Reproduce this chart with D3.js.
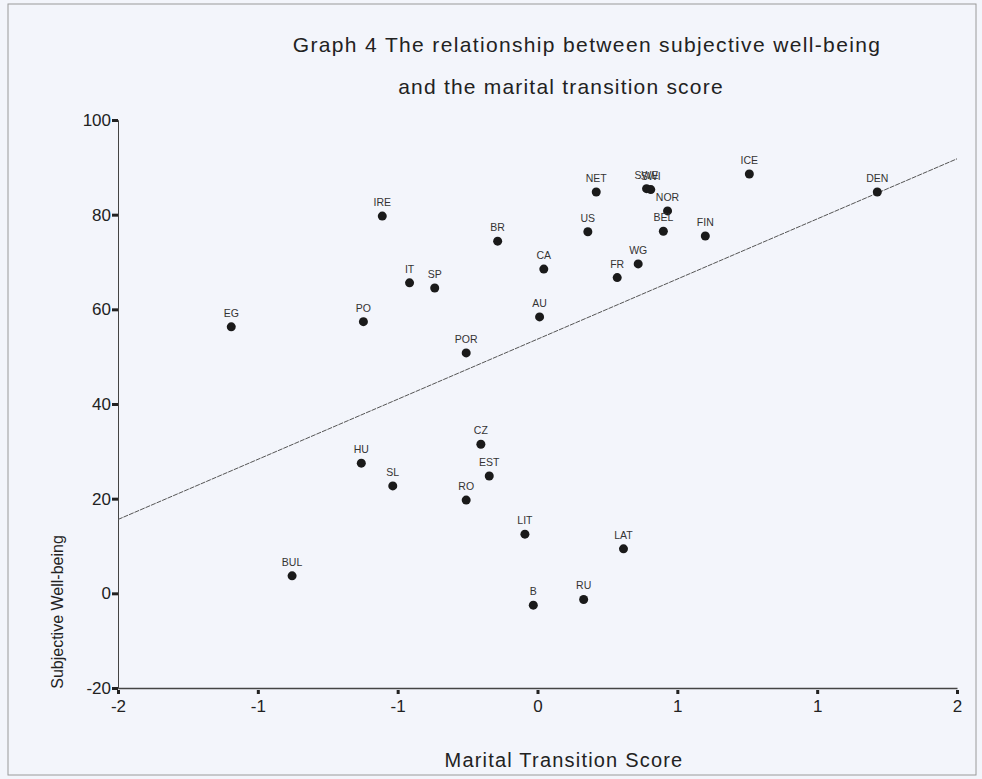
<!DOCTYPE html>
<html>
<head>
<meta charset="utf-8">
<script src="https://cdn.jsdelivr.net/npm/d3@7"></script>
<style>
  body { margin: 0; background: #fff; }
  svg { display: block; font-family: "Liberation Sans", Arial, sans-serif; }
</style>
</head>
<body>
<svg id="chart" width="982" height="779"></svg>
<script>
// country codes, marital transition score, subjective well-being
var countries = ["EG","PO","IRE","IT","SP","BR","POR","CA","AU","US","NET","SWE","SWI","NOR","BEL","WG","FR","FIN","ICE","DEN","HU","SL","CZ","EST","RO","LIT","LAT","BUL","B","RU"];
var transition = [-1.46,-0.83,-0.74,-0.61,-0.49,-0.19,-0.34,0.03,0.01,0.24,0.28,0.52,0.54,0.62,0.60,0.48,0.38,0.80,1.01,1.62,-0.84,-0.69,-0.27,-0.23,-0.34,-0.06,0.41,-1.17,-0.02,0.22];
var wellbeing = [56.3,57.4,79.7,65.6,64.5,74.4,50.8,68.5,58.4,76.4,84.8,85.5,85.3,80.8,76.5,69.6,66.7,75.5,88.6,84.8,27.5,22.7,31.5,24.8,19.7,12.5,9.4,3.7,-2.5,-1.3];

var xTicks = [-2,-4/3,-2/3,0,2/3,4/3,2];
var yTicks = [-20,0,20,40,60,80,100];

// fitted line (intercept, slope)
var fit = [53.7, 19.05];

var svg = d3.select("#chart");
var narrow = "Liberation Sans Narrow, Arial Narrow, sans-serif";

var x = d3.scaleLinear().domain([-2,2]).range([118,957]);
var y = d3.scaleLinear().domain([-20,100]).range([688,120]);

svg.append("rect")
  .attr("width",982).attr("height",779)
  .attr("fill","#f3f5fb");

svg.append("rect")
  .attr("x",8).attr("y",4).attr("width",968).attr("height",771)
  .attr("fill","none").attr("stroke","#9a9a9a").attr("stroke-width",1);

// title
svg.append("text")
  .attr("x",587).attr("y",52)
  .attr("text-anchor","middle")
  .attr("font-size",21).attr("letter-spacing",1.35).attr("fill","#222")
  .text("Graph 4 The relationship between subjective well-being");
svg.append("text")
  .attr("x",561).attr("y",94)
  .attr("text-anchor","middle")
  .attr("font-size",21).attr("letter-spacing",1.2).attr("fill","#222")
  .text("and the marital transition score");

// axes
var xAxis = svg.append("g")
  .attr("transform","translate(0," + y(-20) + ")")
  .call(d3.axisBottom(x).tickValues(xTicks).tickSize(0).tickPadding(12)
        .tickFormat(function(d){ var s = String(Math.round(d)); return s == "-0" ? "0" : s; }));
xAxis.select(".domain").attr("stroke","#444").attr("stroke-width",1.5);
xAxis.selectAll("text").attr("font-size",17).attr("fill","#222").attr("font-family",narrow);

xAxis.selectAll(".tick").append("rect")
  .attr("x",-1.5).attr("y",2).attr("width",3).attr("height",4)
  .attr("fill","#222");

var yAxis = svg.append("g")
  .attr("transform","translate(" + x(-2) + ",0)")
  .call(d3.axisLeft(y).tickValues(yTicks).tickSize(6).tickPadding(1)
        .tickFormat(function(d){ return String(d); }));
yAxis.select(".domain").attr("stroke","#444").attr("stroke-width",1);
yAxis.selectAll(".tick line").attr("stroke","#222").attr("stroke-width",3);
yAxis.selectAll("text").attr("font-size",17).attr("fill","#222").attr("font-family",narrow);

// axis titles
svg.append("text")
  .attr("x",564).attr("y",767)
  .attr("text-anchor","middle")
  .attr("font-size",20).attr("letter-spacing",1.2).attr("fill","#222")
  .text("Marital Transition Score");
svg.append("text")
  .attr("transform","translate(63,612) rotate(-90)")
  .attr("text-anchor","middle")
  .attr("font-size",16).attr("fill","#222")
  .attr("font-family",narrow)
  .text("Subjective Well-being");

// regression line
svg.append("line")
  .attr("x1",x(-2)).attr("y1",y(fit[0] + fit[1]*-2))
  .attr("x2",x(2)).attr("y2",y(fit[0] + fit[1]*2))
  .attr("stroke","#555").attr("stroke-width",1)
  .attr("stroke-dasharray","5,1");

// points
var pts = countries.map(function(c,i){ return {name:c, tx:transition[i], wb:wellbeing[i]}; });

svg.append("g").selectAll("circle")
  .data(pts)
  .enter().append("circle")
    .attr("cx", d => x(d.tx))
    .attr("cy", d => y(d.wb))
    .attr("r",4.5)
    .attr("fill","#1a1a1a");

svg.append("g").selectAll("text")
  .data(pts)
  .enter().append("text")
    .attr("x", d => x(d.tx))
    .attr("y", d => y(d.wb) - 10)
    .attr("text-anchor","middle")
    .attr("font-size",10.5)
    .attr("font-family",narrow)
    .attr("fill","#333")
    .text(d => d.name);
</script>
</body>
</html>
